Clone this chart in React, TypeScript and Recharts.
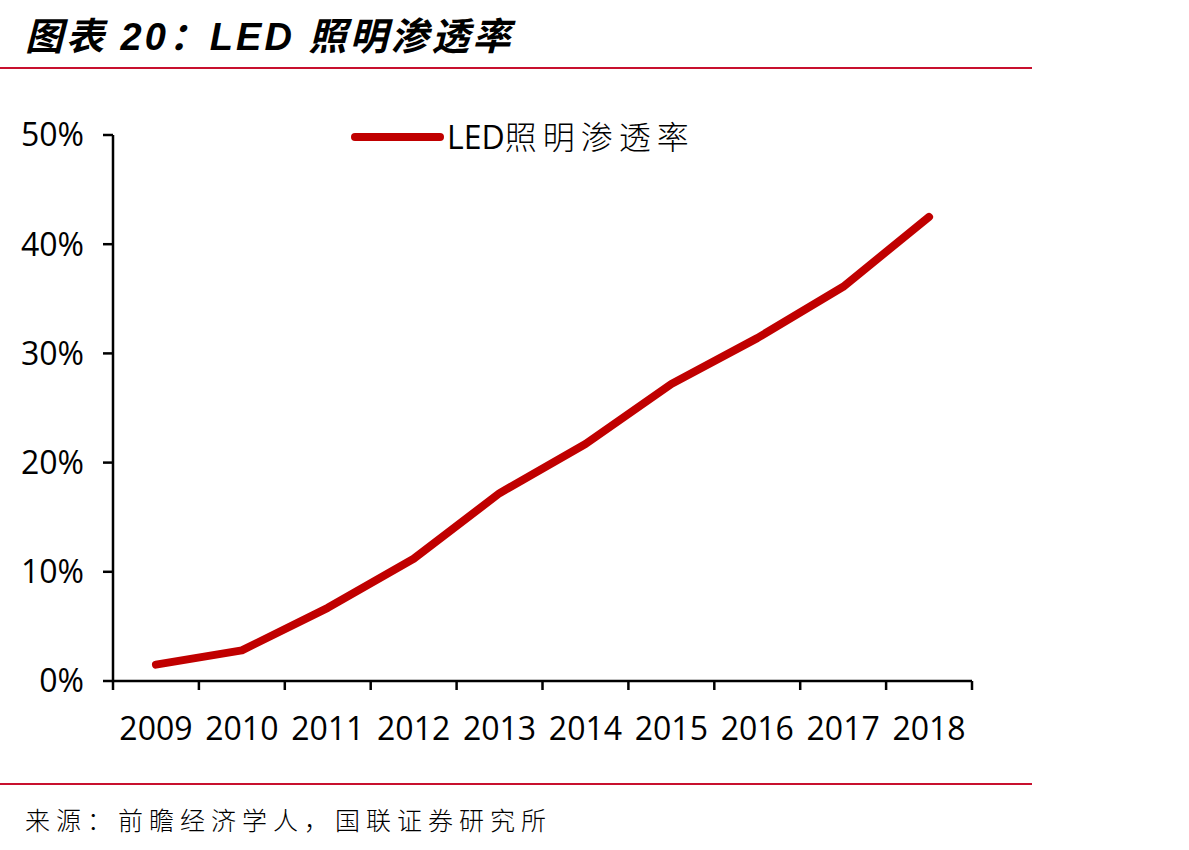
import React from 'react';
import { LineChart, Line, XAxis, YAxis, Legend } from 'recharts';

// LED lighting penetration rate by year (%)
const years = ['2009', '2010', '2011', '2012', '2013', '2014', '2015', '2016', '2017', '2018'];
const penetration = [1.5, 2.8, 6.7, 11.2, 17.2, 21.7, 27.2, 31.4, 36.1, 42.5];
const yTicks = [0, 10, 20, 30, 40, 50];
const seriesName = 'LED照明渗透率';
const titleText = '图表 20：LED 照明渗透率';
const sourceText = '来源：前瞻经济学人，国联证券研究所';

const data = years.map((year, i) => ({ year, value: penetration[i] }));

const RED = '#C00000';
const RULE = '#C8102E';
const LATIN = '"Open Sans", "Noto Sans CJK SC", sans-serif';

const X_TICK_SIZE = 9;
const X_TICK_MARGIN = 27;

// Year label centred in its band, with tick marks on the band boundaries
const YearTick = (props: any) => {
  const { x, y, payload, index, visibleTicksCount } = props;
  const half = payload && typeof payload.offset === 'number' && payload.offset > 0 ? payload.offset : 43;
  const axisY = y - X_TICK_SIZE - X_TICK_MARGIN;
  const isLast = index === (visibleTicksCount ?? years.length) - 1;
  return (
    <g>
      <line x1={x - half} x2={x - half} y1={axisY} y2={axisY + X_TICK_SIZE} stroke="#000" strokeWidth={2.5} />
      {isLast && (
        <line x1={x + half} x2={x + half} y1={axisY} y2={axisY + X_TICK_SIZE} stroke="#000" strokeWidth={2.5} />
      )}
      <text x={x} y={y} dy="0.71em" textAnchor="middle" fontFamily={LATIN} fontSize={32} fill="#000">
        {payload.value}
      </text>
    </g>
  );
};

const LegendContent = (props: any) => {
  const item = props.payload && props.payload[0];
  const name = item ? item.value : seriesName;
  const latin = name.slice(0, 3);
  const cjk = name.slice(3);
  return (
    <svg width={380} height={50} style={{ display: 'block' }}>
      <line x1={15} x2={100} y1={25} y2={25} stroke={RED} strokeWidth={8} strokeLinecap="round" />
      <text x={107} y={25} dy="0.36em" fontSize={32} fill="#000">
        <tspan fontFamily={LATIN}>{latin}</tspan>
        <tspan fontFamily='"Noto Sans CJK SC", sans-serif' fontWeight={300} letterSpacing={6}>
          {cjk}
        </tspan>
      </text>
    </svg>
  );
};

export default function App() {
  return (
    <div
      style={{
        position: 'absolute',
        left: 0,
        top: 0,
        width: 1189,
        height: 850,
        background: '#fff',
        overflow: 'hidden',
      }}
    >
      <div
        style={{
          position: 'absolute',
          left: 25,
          top: 6,
          fontFamily: '"Liberation Sans", "Noto Sans CJK SC", sans-serif',
          fontWeight: 700,
          fontStyle: 'italic',
          fontSize: 38,
          letterSpacing: 3,
          whiteSpace: 'nowrap',
          color: '#000',
        }}
      >
        {titleText}
      </div>
      <div style={{ position: 'absolute', left: 0, top: 67, width: 1032, height: 2, background: RULE }} />

      <div style={{ position: 'absolute', left: 0, top: 0 }}>
        <LineChart
          width={1189}
          height={850}
          data={data}
          margin={{ top: 135, right: 217, bottom: 99, left: 23 }}
        >
          <XAxis
            dataKey="year"
            scale="band"
            interval={0}
            height={70}
            axisLine={{ stroke: '#000', strokeWidth: 2.5 }}
            tickLine={false}
            tickSize={X_TICK_SIZE}
            tickMargin={X_TICK_MARGIN}
            tick={<YearTick />}
          />
          <YAxis
            width={90}
            domain={[0, 50]}
            ticks={yTicks}
            interval={0}
            allowDataOverflow
            axisLine={{ stroke: '#000', strokeWidth: 2.5 }}
            tickLine={{ stroke: '#000', strokeWidth: 2.5 }}
            tickSize={10}
            tickMargin={19}
            tickFormatter={(v: number) => `${v}%`}
            tick={{ fontFamily: LATIN, fontSize: 32, fill: '#000' }}
          />
          <Legend
            layout="horizontal"
            verticalAlign="middle"
            align="center"
            content={<LegendContent />}
            wrapperStyle={{ left: 340, top: 112, width: 380, height: 50 }}
          />
          <Line
            type="linear"
            dataKey="value"
            name={seriesName}
            stroke={RED}
            strokeWidth={8}
            strokeLinecap="round"
            strokeLinejoin="round"
            dot={false}
            activeDot={false}
            isAnimationActive={false}
          />
        </LineChart>
      </div>

      <div style={{ position: 'absolute', left: 0, top: 783, width: 1032, height: 2, background: RULE }} />
      <div
        style={{
          position: 'absolute',
          left: 25,
          top: 801,
          fontFamily: '"Noto Sans CJK SC", sans-serif',
          fontWeight: 300,
          fontSize: 25,
          letterSpacing: 6,
          whiteSpace: 'nowrap',
          color: '#000',
        }}
      >
        {sourceText}
      </div>
    </div>
  );
}
